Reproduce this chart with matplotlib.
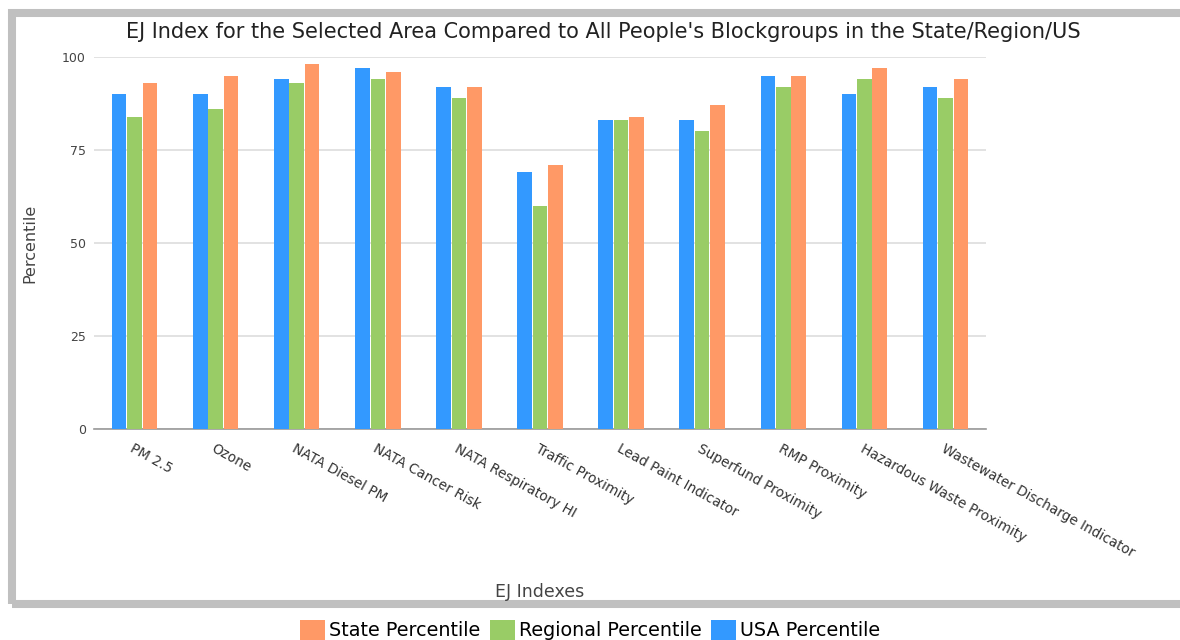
import numpy as np
import matplotlib
matplotlib.use("Agg")
import matplotlib.pyplot as plt
from matplotlib.patches import Rectangle

# EJ index names
categories = ["PM 2.5", "Ozone", "NATA Diesel PM", "NATA Cancer Risk",
              "NATA Respiratory HI", "Traffic Proximity", "Lead Paint Indicator",
              "Superfund Proximity", "RMP Proximity", "Hazardous Waste Proximity",
              "Wastewater Discharge Indicator"]

# percentiles
usa_pct = [90, 90, 94, 97, 92, 69, 83, 83, 95, 90, 92]
regional_pct = [84, 86, 93, 94, 89, 60, 83, 80, 92, 94, 89]
state_pct = [93, 95, 98, 96, 92, 71, 84, 87, 95, 97, 94]

yticks = [0, 25, 50, 75, 100]

c_usa = "#3399FF"
c_reg = "#99CC66"
c_state = "#FF9966"

plt.rcParams['font.family'] = ['DejaVu Sans']

fig = plt.figure(figsize=(11.8, 6.4), dpi=100)
ax = fig.add_axes([94/1180, 1-429/640, (986-94)/1180, (429-57)/640])

x = np.arange(len(categories))
w = 0.18
gap = 0.01
ax.bar(x - w - gap, usa_pct, w, color=c_usa, label="USA Percentile", zorder=3)
ax.bar(x, regional_pct, w, color=c_reg, label="Regional Percentile", zorder=3)
ax.bar(x + w + gap, state_pct, w, color=c_state, label="State Percentile", zorder=3)

ax.set_xlim(-0.5, len(categories) - 0.5)
ax.set_ylim(0, 100)
ax.set_yticks(yticks)
ax.set_yticklabels([str(v) for v in yticks], fontsize=9, color="#444444")
ax.grid(axis="y", color="#dddddd", linewidth=1.2, zorder=0)
ax.tick_params(axis="y", length=0, pad=6)
ax.tick_params(axis="x", length=0, pad=9)
for s in ["top", "right", "left"]:
    ax.spines[s].set_visible(False)
ax.spines["bottom"].set_color("#999999")
ax.spines["bottom"].set_linewidth(1.2)

ax.set_xticks(x)
ax.set_xticklabels(categories, rotation=-29, ha="left", va="top",
                   rotation_mode="anchor", fontsize=9.8, color="#333333")

fig.text(603/1180, 1-32/640, "EJ Index for the Selected Area Compared to All People's Blockgroups in the State/Region/US",
         ha="center", va="center", fontsize=15, color="#222222")
fig.text(540/1180, 1-592/640, "EJ Indexes", ha="center", va="center", fontsize=12.5, color="#444444")
fig.text(30/1180, 1-243/640, "Percentile", ha="center", va="center", rotation=90,
         fontsize=11.5, color="#444444")

# grey frame around the chart
fig.patches.append(Rectangle((12/1180, 1-604/640), 1200/1180, (604-13)/640,
                             transform=fig.transFigure, fill=False,
                             edgecolor="#c0c0c0", linewidth=5.8))

h, l = ax.get_legend_handles_labels()
fig.legend(h[::-1], l[::-1], loc="center", bbox_to_anchor=(590/1180, 1-630/640),
           ncol=3, frameon=False, fontsize=13.8, handlelength=1.3, handleheight=1.3,
           handletextpad=0.2, columnspacing=0.5)

fig.savefig("out.png", dpi=100)
